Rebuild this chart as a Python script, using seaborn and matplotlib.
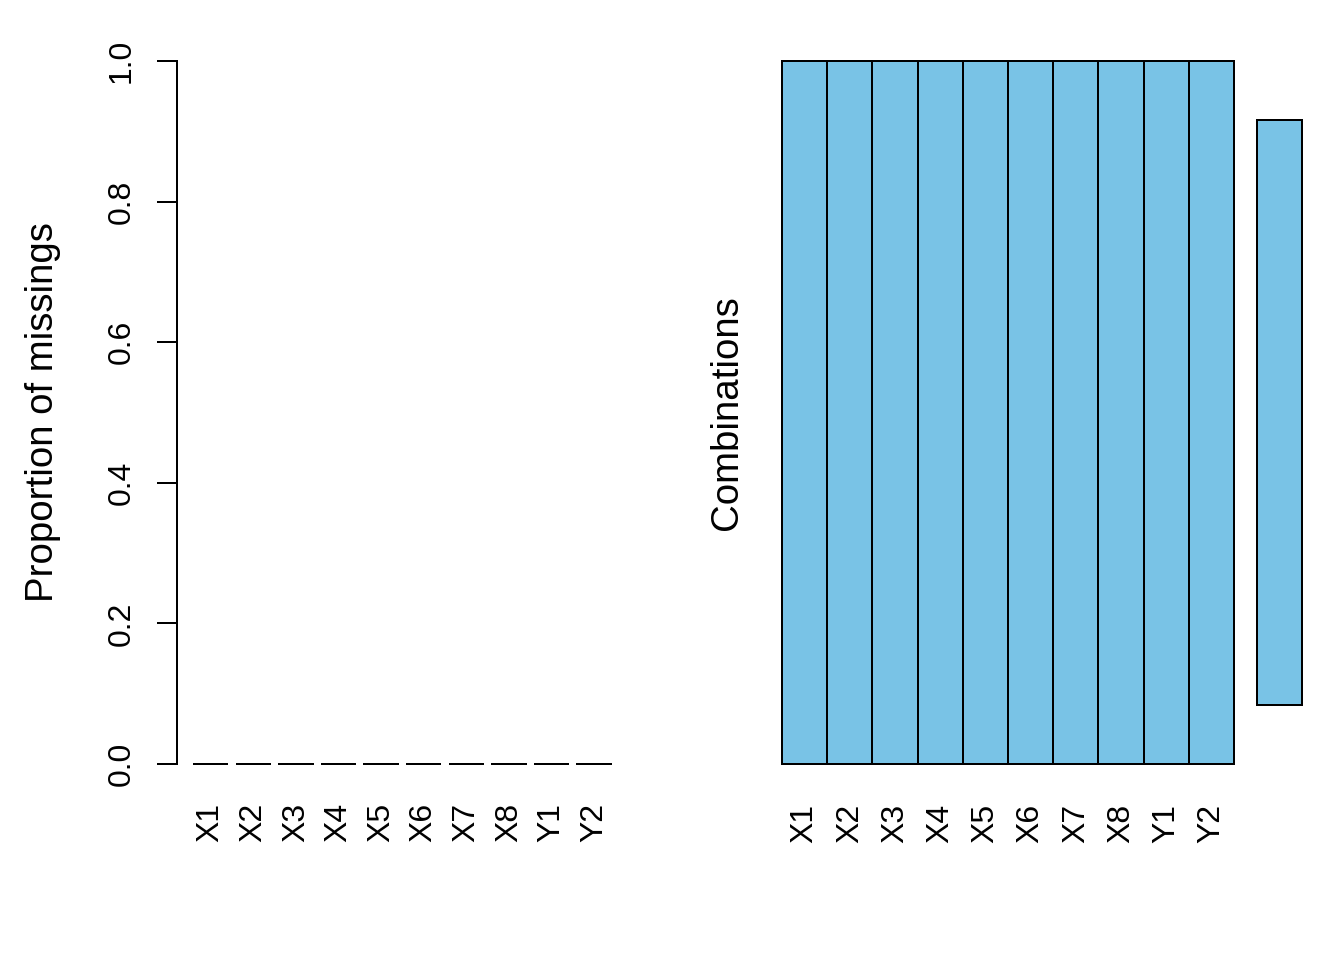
import numpy as np
import pandas as pd
import matplotlib
matplotlib.use("Agg")
import matplotlib.pyplot as plt
from matplotlib.colors import ListedColormap
import seaborn as sns

# data (VIM-style aggr plot, no missing values)
variables = ["X1", "X2", "X3", "X4", "X5", "X6", "X7", "X8", "Y1", "Y2"]
prop_missing = [0, 0, 0, 0, 0, 0, 0, 0, 0, 0]
pattern = [[0, 0, 0, 0, 0, 0, 0, 0, 0, 0]]   # one combination: nothing missing
comb_prop = [1.0]                             # share of rows with that combination

sns.set_style("white")
plt.rcParams["font.family"] = ["Liberation Sans", "DejaVu Sans"]
plt.rcParams.update({"font.size": 12, "text.color": "black",
                     "axes.labelcolor": "black", "xtick.color": "black",
                     "ytick.color": "black"})

W, H = 1344, 960
fig = plt.figure(figsize=(7, 5), dpi=192)

def px_axes(l, t, r, b):
    return fig.add_axes([l / W, 1 - b / H, (r - l) / W, (b - t) / H])

sky = "#79C3E6"
lw = 0.75

# ---- left: proportion of missings
ax1 = px_axes(177, 33, 629, 792)
sns.barplot(x=variables, y=prop_missing, color=sky, edgecolor="black",
            linewidth=lw, width=0.833, saturation=1, ax=ax1)
ax1.set_xlim(-0.792, 9.818)
ax1.set_ylim(-0.04, 1.04)
for s in ["top", "right", "bottom"]:
    ax1.spines[s].set_visible(False)
ax1.spines["left"].set_bounds(0, 1)
ax1.spines["left"].set_linewidth(lw)
ax1.spines["left"].set_color("black")
ax1.set_yticks(np.arange(0, 1.01, 0.2))
ax1.set_yticklabels([f"{v:.1f}" for v in np.arange(0, 1.01, 0.2)])
ax1.tick_params(axis="y", length=7.5, width=lw, color="black", pad=7.5,
                labelsize=12, labelrotation=90, left=True, labelcolor="black")
for lbl in ax1.get_yticklabels():
    lbl.set_va("center")
ax1.tick_params(axis="x", length=0, pad=4, labelsize=12, labelrotation=90,
                labelcolor="black")
ax1.set_xlabel("")
ax1.set_ylabel("Proportion of missings", fontsize=14.4, color="black")
ax1.yaxis.set_label_coords((61 - 177) / 452, 0.5)

# ---- middle: combination pattern
ax2 = px_axes(782, 61, 1234, 764)
pat = pd.DataFrame(pattern, columns=variables)
sns.heatmap(pat, cmap=ListedColormap([sky]), cbar=False, linewidths=lw,
            linecolor="black", ax=ax2)
for s in ax2.spines.values():
    s.set_visible(True)
    s.set_linewidth(lw)
    s.set_color("black")
ax2.set_yticks([])
ax2.tick_params(axis="x", length=0, pad=15, labelsize=12, labelrotation=90,
                labelcolor="black")
ax2.set_ylabel("Combinations", fontsize=14.4, color="black")
ax2.yaxis.set_label_coords((745 - 782) / 452, 0.5)

# ---- right: frequency of combinations
ax3 = px_axes(1257, 61, 1302, 764)
sns.barplot(x=comb_prop, y=["comb"], orient="h", color=sky, edgecolor="black",
            linewidth=lw, width=0.832, saturation=1, ax=ax3)
ax3.set_xlim(0, 1)
ax3.set_ylim(0.5, -0.5)
for p in ax3.patches:
    p.set_clip_on(False)
ax3.axis("off")

fig.savefig("out.png", dpi=192)
